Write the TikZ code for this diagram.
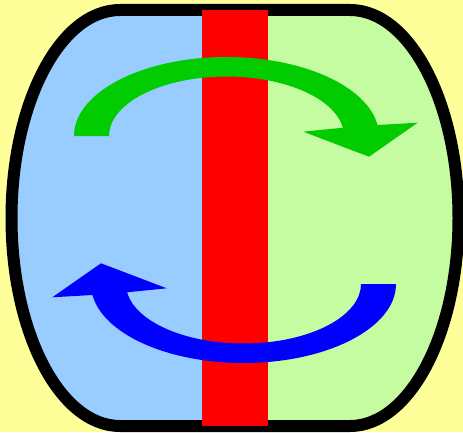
\documentclass[tikz,border=0pt]{standalone}
\definecolor{bgyellow}{RGB}{255,255,153}
\definecolor{lblue}{RGB}{153,204,255}
\definecolor{lgreen}{RGB}{197,252,162}
\definecolor{agreen}{RGB}{0,204,0}
\definecolor{ablue}{RGB}{0,0,255}
\definecolor{bandred}{RGB}{255,0,0}
\tikzset{
  outline/.style={line width=12pt, draw=black, line join=round},
  curvedarrow/.style={draw=none}
}
\begin{document}
\begin{tikzpicture}[x=1pt,y=1pt]
\useasboundingbox (0,0) rectangle (463,432);
\fill[bgyellow] (0,0) rectangle (463,432);
% fills of the barrel
\begin{scope}
  \clip (120,422) -- (350,422)
    arc[start angle=90, end angle=0, x radius=108.5, y radius=208]
    arc[start angle=0, end angle=-90, x radius=108.5, y radius=208]
    -- (120,6)
    arc[start angle=270, end angle=180, x radius=108.5, y radius=208]
    arc[start angle=180, end angle=90, x radius=108.5, y radius=208]
    -- cycle;
  \fill[lblue] (0,0) rectangle (235,432);
  \fill[lgreen] (235,0) rectangle (463,432);
\end{scope}
% outline
\path[outline] (120,422) -- (350,422)
    arc[start angle=90, end angle=0, x radius=108.5, y radius=208]
    arc[start angle=0, end angle=-90, x radius=108.5, y radius=208]
    -- (120,6)
    arc[start angle=270, end angle=180, x radius=108.5, y radius=208]
    arc[start angle=180, end angle=90, x radius=108.5, y radius=208]
    -- cycle;
% red band
\fill[bandred] (202,6) rectangle (268,422);
% green arrow
\fill[agreen, curvedarrow] (74,296)
    arc[start angle=180, end angle=8, x radius=152.5, y radius=79]
    -- (417.7,309.3) -- (369,275.3) -- (303.3,300.3)
    -- (342.86,304.28)
    arc[start angle=8, end angle=180, x radius=117.5, y radius=59.5]
    -- cycle;
% blue arrow (same shape turned half a turn)
\begin{scope}[rotate around={180:(235,222)}]
\fill[ablue, curvedarrow] (74,296)
    arc[start angle=180, end angle=8, x radius=152.5, y radius=79]
    -- (417.7,309.3) -- (369,275.3) -- (303.3,300.3)
    -- (342.86,304.28)
    arc[start angle=8, end angle=180, x radius=117.5, y radius=59.5]
    -- cycle;
\end{scope}
\end{tikzpicture}
\end{document}
